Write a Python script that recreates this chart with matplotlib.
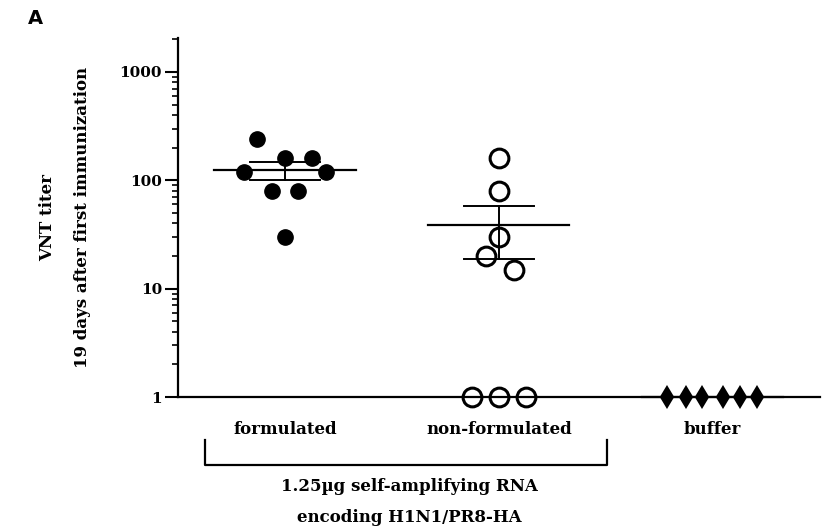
import numpy as np
import matplotlib.pyplot as plt
from matplotlib.ticker import LogLocator, NullFormatter, FixedLocator, FixedFormatter
from matplotlib.transforms import blended_transform_factory

# VNT titers, one list per group
groups = ['formulated', 'non-formulated', 'buffer']
formulated = [240, 160, 160, 120, 120, 80, 80, 30]
non_formulated = [160, 80, 30, 20, 15, 1, 1, 1]
buffer = [1, 1, 1, 1, 1, 1]
y_ticks = [1, 10, 100, 1000]
y_tick_labels = ['1', '10', '100', '1000']

# sideways spread of the dots inside each column (layout only)
spread = [
    [-0.13, 0.0, 0.126, -0.19, 0.19, -0.06, 0.06, 0.0],
    [0.0, 0.0, 0.0, -0.06, 0.07, -0.126, 0.0, 0.126],
    [-0.215, -0.126, -0.05, 0.05, 0.126, 0.205],
]

font = {'family': 'DejaVu Serif', 'weight': 'bold'}

fig = plt.figure(figsize=(8.28, 5.29), dpi=100)
ax = fig.add_axes([0.215, 0.2495, 0.775, 0.6785])

styles = [
    dict(marker='o', ms=11, mfc='black', mec='black'),
    dict(marker='o', ms=13.5, mfc='none', mec='black', mew=2.2),
    dict(marker='d', ms=10, mfc='black', mec='black', mew=1.5),
]

for i, vals in enumerate([formulated, non_formulated, buffer]):
    pos = i + 1
    vals = np.array(vals, dtype=float)
    xs = pos + np.array(spread[i])
    ax.plot(xs, vals, ls='none', clip_on=False, zorder=2, **styles[i])

    # mean +/- SEM
    m = vals.mean()
    sem = vals.std(ddof=1) / np.sqrt(len(vals))
    ax.plot([pos - 0.33, pos + 0.33], [m, m], color='black', lw=1.6, zorder=3, clip_on=False)
    if sem > 0:
        ax.plot([pos, pos], [m - sem, m + sem], color='black', lw=1.4, zorder=3)
        for yy in (m - sem, m + sem):
            ax.plot([pos - 0.165, pos + 0.165], [yy, yy], color='black', lw=1.4, zorder=3)

ax.set_yscale('log')
ax.set_ylim(1, 2050)
ax.set_xlim(0.5, 3.5)

ax.yaxis.set_major_locator(FixedLocator(y_ticks))
ax.yaxis.set_major_formatter(FixedFormatter(y_tick_labels))
ax.yaxis.set_minor_locator(LogLocator(base=10, subs=np.arange(2, 10)))
ax.yaxis.set_minor_formatter(NullFormatter())
ax.tick_params(axis='y', which='major', length=9.5, width=1.5, pad=2)
ax.tick_params(axis='y', which='minor', length=4.5, width=1.2)

ax.set_xticks([1, 2, 3])
ax.set_xticklabels(groups)
ax.tick_params(axis='x', length=0, pad=17)

for lab in ax.get_xticklabels() + ax.get_yticklabels():
    lab.set_fontfamily(font['family'])
    lab.set_fontweight('bold')
for lab in ax.get_xticklabels():
    lab.set_fontsize(12)
for lab in ax.get_yticklabels():
    lab.set_fontsize(11)

ax.spines['top'].set_visible(False)
ax.spines['right'].set_visible(False)
ax.spines['left'].set_linewidth(1.6)
ax.spines['bottom'].set_linewidth(1.6)

ax.set_ylabel('VNT titer\n19 days after first immunization', fontsize=12,
              linespacing=2.35, ha='center', va='center', **font)
ax.yaxis.set_label_coords(-0.176, 0.5)

# bracket under the two RNA groups
tr = blended_transform_factory(ax.transData, ax.transAxes)
ax.plot([0.626, 0.626, 2.505, 2.505], [-0.12, -0.189, -0.189, -0.12],
        color='black', lw=1.6, transform=tr, clip_on=False)
ax.text(1.58, -0.292, '1.25\u00b5g self-amplifying RNA\nencoding H1N1/PR8-HA',
        transform=tr, ha='center', va='center', fontsize=12, linespacing=2.05, **font)

fig.text(35 / 828, 1 - 19 / 529, 'A', ha='center', va='center', fontsize=14,
         fontweight='bold', family='DejaVu Sans')

fig.savefig('out.png', dpi=100)
